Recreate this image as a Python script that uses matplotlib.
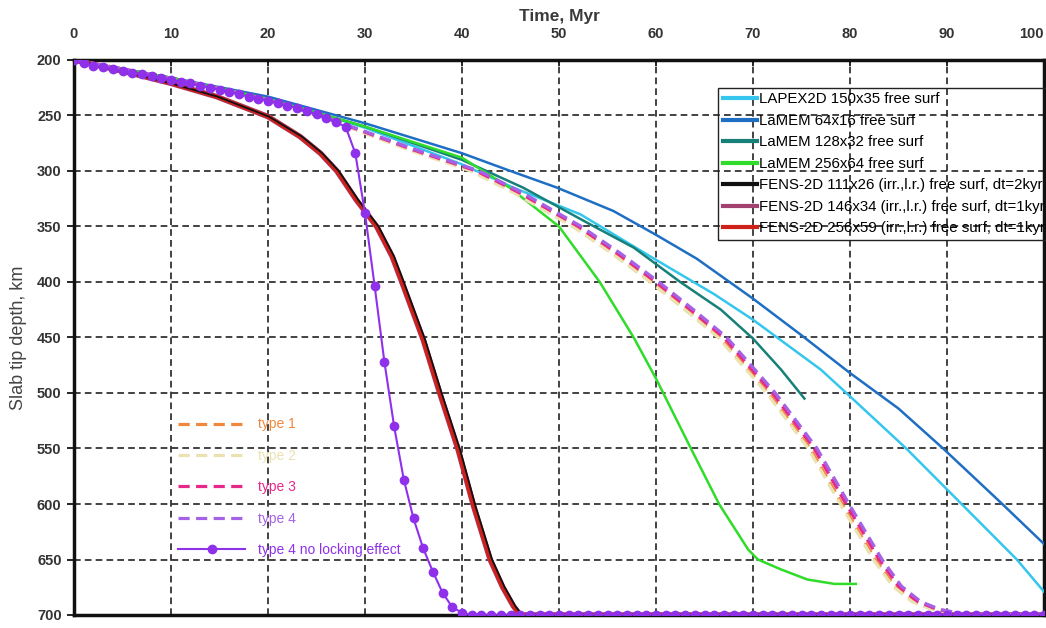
import matplotlib
matplotlib.use('Agg')
import matplotlib.pyplot as plt
import numpy as np

plt.rcParams['font.family'] = ['Liberation Sans', 'DejaVu Sans']

# LAPEX2D 150x35
t_lapex = [0, 10, 20, 30, 40, 45.3, 52.2, 59.8, 66, 70, 77, 80, 85.8, 91.5, 97.2, 100]
d_lapex = [200, 217, 234, 261, 294, 315, 339, 379, 411, 434, 479, 503, 550, 600, 650, 679]

# LaMEM runs
t_lamem64 = [0, 10, 20, 30, 40, 45, 49.8, 55.6, 60.1, 64.2, 70, 75, 80, 85, 89.6, 95.7, 100]
d_lamem64 = [200, 216, 233, 257, 284, 300, 315, 336, 358, 379, 415, 448, 482, 514, 550, 600, 636]

t_lamem128 = [0, 10, 20, 30, 40, 46.3, 53.2, 57.7, 62.5, 66.7, 70, 72.9, 75.3]
d_lamem128 = [200, 216, 235, 260, 290, 315, 348, 369, 400, 425, 451, 479, 505]

t_lamem256 = [0, 10, 20, 30, 40, 44.9, 50, 54.2, 57.7, 60, 63.6, 66.5, 69.5, 70.5, 72.9, 75.6, 78.4, 80.6]
d_lamem256 = [200, 216, 235, 260, 288, 315, 350, 400, 450, 487, 550, 600, 641, 650, 659, 668, 672, 672]

# FENS-2D runs (almost on top of each other)
t_fens = [0, 5, 10, 14.7, 20, 23.3, 25.4, 27.1, 29.1, 31.2, 32.8, 33.8, 36.0, 37.7, 39.6, 41.2, 42.9, 44.2, 45.3, 46, 100]
t_fens111 = [0, 5, 10, 14.8, 20.1, 23.5, 25.6, 27.3, 29.3, 31.4, 33.0, 34.0, 36.2, 37.9, 39.8, 41.4, 43.1, 44.4, 45.5, 46.2, 100]
d_fens = [200, 210, 221, 233, 251, 269, 284, 300, 326, 350, 377, 400, 452, 500, 551, 602, 650, 675, 692, 700, 700]

# type 1-4 (dashed)
t_type1 = [0, 5, 10, 15, 20, 25, 29.8, 34.7, 41.1, 45.6, 51.6, 55.6, 59.6, 63.6, 66.6, 71.6, 75.9, 79.2, 82.6, 84.6, 86.6, 88.6, 91.6, 100]
t_type2 = [0, 5, 10, 15, 20, 25, 29.7, 34.5, 40.9, 45.4, 51.4, 55.4, 59.4, 63.4, 66.4, 71.4, 75.7, 79.0, 82.4, 84.4, 86.4, 88.4, 91.4, 100]
t_type3 = [0, 5, 10, 15, 20, 25, 30, 35, 41.5, 46, 52, 56, 60, 64, 67, 72, 76.3, 79.6, 83, 85, 87, 89, 92, 100]
t_type4 = [0, 5, 10, 15, 20, 25, 30.2, 35.3, 41.8, 46.3, 52.3, 56.3, 60.3, 64.3, 67.3, 72.3, 76.6, 79.9, 83.3, 85.3, 87.3, 89.3, 92.3, 100]
d_type = [200, 208, 217, 226, 236, 249, 265, 281, 300, 320, 350, 374, 400, 428, 450, 500, 550, 600, 650, 674, 688, 695, 700, 700]

# type 4 no locking effect, one marker per Myr
d_nolock = [200, 203, 205, 206.5, 208, 210, 211.5, 213, 214.5, 216,
            218, 219.5, 221, 223, 225, 227, 229, 231, 233, 235,
            237, 239, 241, 243.5, 246, 249, 252, 256, 260, 284,
            338, 404, 472, 530, 578, 613, 640, 661, 680, 693,
            698, 700, 700, 700, 700, 700, 700, 700, 700, 700,
            700, 700, 700, 700, 700, 700, 700, 700, 700, 700,
            700, 700, 700, 700, 700, 700, 700, 700, 700, 700,
            700, 700, 700, 700, 700, 700, 700, 700, 700, 700,
            700, 700, 700, 700, 700, 700, 700, 700, 700, 700,
            700, 700, 700, 700, 700, 700, 700, 700, 700, 700,
            700]
t_nolock = np.arange(len(d_nolock))

xticks = [0, 10, 20, 30, 40, 50, 60, 70, 80, 90, 100]
yticks = [200, 250, 300, 350, 400, 450, 500, 550, 600, 650, 700]

fig = plt.figure(figsize=(10.46, 6.28), dpi=100)
ax = fig.add_axes([74/1046, 1-615/628, 970/1046, 555/628])

c_lapex = '#35c6ee'
c_l64 = '#1e6ec4'
c_l128 = '#178079'
c_l256 = '#2fdc2a'
c_f111 = '#111111'
c_f146 = '#a2406f'
c_f256 = '#d0201a'

l1, = ax.plot(t_lapex, d_lapex, color=c_lapex, lw=1.8, zorder=3)
l2, = ax.plot(t_lamem64, d_lamem64, color=c_l64, lw=1.8, zorder=3)
l3, = ax.plot(t_lamem128, d_lamem128, color=c_l128, lw=1.8, zorder=3)
l4, = ax.plot(t_lamem256, d_lamem256, color=c_l256, lw=1.8, zorder=3)
l6, = ax.plot(t_fens, d_fens, color=c_f146, lw=4, zorder=3)
l7, = ax.plot(t_fens, d_fens, color=c_f256, lw=3, zorder=3.1)
l5, = ax.plot(t_fens111, d_fens, color=c_f111, lw=1.3, zorder=3.2)

# dashed type curves
dash = (3.5, 2)
p1, = ax.plot(t_type1, d_type, color='#f0883c', lw=2.3, dashes=dash, zorder=4, label='type 1')
p2, = ax.plot(t_type2, d_type, color='#ebe2b2', lw=2.3, dashes=dash, zorder=4, label='type 2')
p3, = ax.plot(t_type3, d_type, color='#e6288a', lw=2.3, dashes=dash, zorder=4, label='type 3')
p4, = ax.plot(t_type4, d_type, color='#a562e6', lw=2.3, dashes=dash, zorder=4, label='type 4')
p5, = ax.plot(t_nolock, d_nolock, color='#8f30ea', lw=1.5, marker='o', ms=6,
              zorder=5, label='type 4 no locking effect')

ax.set_xlim(0, 100)
ax.set_ylim(700, 200)
ax.set_xticks(xticks)
ax.set_yticks(yticks)
ax.xaxis.tick_top()
ax.xaxis.set_label_position('top')
ax.tick_params(axis='x', direction='in', length=4, width=1.2, pad=14,
               labelsize=10.5, labelcolor='#333333')
ax.tick_params(axis='y', direction='out', length=5, width=1.2, pad=4,
               labelsize=10.5, labelcolor='#333333')
for lab in ax.get_xticklabels() + ax.get_yticklabels():
    lab.set_fontweight('bold')
# last label sits against the right border
ax.get_xticklabels()[-1].set_horizontalalignment('right')

ax.set_xlabel('Time, Myr', fontsize=12.5, fontweight='bold', color='#3a3a3a', labelpad=4)
ax.set_ylabel('Slab tip depth, km', fontsize=13, color='#444444', labelpad=7)

ax.grid(True, color='#222222', lw=1.2, linestyle=(0, (4, 2.5)))
ax.set_axisbelow(True)
for s in ax.spines.values():
    s.set_linewidth(2.5)
    s.set_color('#111111')

leg1 = ax.legend([l1, l2, l3, l4, l5, l6, l7],
                 ['LAPEX2D 150x35 free surf', 'LaMEM 64x16 free surf',
                  'LaMEM 128x32 free surf', 'LaMEM 256x64 free surf',
                  'FENS-2D 111x26 (irr.,l.r.) free surf, dt=2kyr',
                  'FENS-2D 146x34 (irr.,l.r.) free surf, dt=1kyr',
                  'FENS-2D 256x59 (irr.,l.r.) free surf, dt=1kyr'],
                 loc='upper left', bbox_to_anchor=(0.664, 0.95), borderaxespad=0,
                 fontsize=10.8, handlelength=2.3, handletextpad=0.1,
                 labelspacing=0.5, fancybox=False, framealpha=1,
                 facecolor='none', edgecolor='#222222', borderpad=0.3)
leg1.get_frame().set_linewidth(1.0)
for h in leg1.get_lines():
    h.set_linewidth(3)
ax.add_artist(leg1)

leg2 = ax.legend(handles=[p1, p2, p3, p4, p5], loc='upper left',
                 bbox_to_anchor=(0.102, 0.366), borderaxespad=0, frameon=False,
                 fontsize=10, handlelength=4.8, handletextpad=0.9,
                 labelspacing=1.25, labelcolor='linecolor')

fig.savefig('out.png', dpi=100)
